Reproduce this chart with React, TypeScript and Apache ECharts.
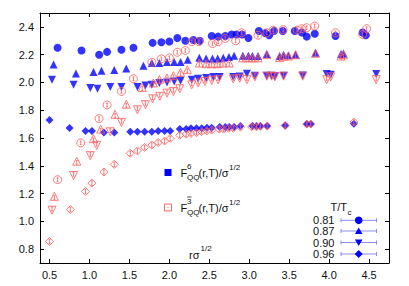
import React, { useEffect, useRef } from "react";
import * as echarts from "echarts";

const X_TICKS = [0.5, 1.0, 1.5, 2.0, 2.5, 3.0, 3.5, 4.0, 4.5];
const Y_TICKS = [0.8, 1.0, 1.2, 1.4, 1.6, 1.8, 2.0, 2.2, 2.4];
const T_LABELS = ["0.81", "0.87", "0.90", "0.96"];

// F^6 (blue, filled)
const F6_081 = [[0.60,2.25],[0.90,2.23],[1.12,2.20],[1.22,2.22],[1.40,2.235],[1.55,2.25],[1.79,2.285],[1.90,2.29],[2.00,2.295],[2.10,2.32],[2.20,2.30],[2.30,2.305],[2.38,2.30],[2.53,2.335],[2.61,2.33],[2.70,2.335],[2.78,2.345],[2.84,2.345],[2.91,2.345],[2.99,2.32],[3.12,2.37],[3.20,2.355],[3.25,2.34],[3.31,2.37],[3.42,2.37],[3.57,2.37],[3.66,2.36],[3.72,2.33],[3.82,2.35],[4.08,2.335],[4.42,2.36],[4.46,2.34]];
const F6_087 = [[0.55,2.13],[0.83,2.065],[1.05,2.075],[1.15,2.085],[1.31,2.09],[1.46,2.10],[1.675,2.12],[1.78,2.14],[1.875,2.14],[1.97,2.148],[2.06,2.148],[2.14,2.148],[2.23,2.164],[2.375,2.177],[2.46,2.172],[2.54,2.172],[2.605,2.172],[2.675,2.177],[2.746,2.184],[2.81,2.193],[2.92,2.193],[2.99,2.193],[3.04,2.19],[3.11,2.19],[3.22,2.205],[3.38,2.19],[3.43,2.20],[3.49,2.195],[3.58,2.20],[3.83,2.213],[4.15,2.205],[4.18,2.208]];
const F6_090 = [[0.53,2.02],[0.80,1.983],[1.01,1.96],[1.10,1.954],[1.26,1.967],[1.40,1.967],[1.60,1.967],[1.70,1.978],[1.78,1.983],[1.875,1.996],[1.97,2.0],[2.06,2.007],[2.14,2.012],[2.28,2.02],[2.36,2.027],[2.46,2.032],[2.55,2.04],[2.63,2.04],[2.80,2.04],[2.88,2.043],[2.97,2.063],[3.07,2.049],[3.22,2.049],[3.28,2.049],[3.32,2.045],[3.43,2.049],[3.67,2.05],[3.97,2.06],[4.02,2.056],[4.59,2.06]];
const F6_096 = [[0.50,1.73],[0.75,1.672],[0.95,1.65],[1.03,1.65],[1.18,1.64],[1.31,1.64],[1.51,1.645],[1.60,1.645],[1.69,1.645],[1.78,1.645],[1.86,1.65],[1.94,1.65],[2.01,1.65],[2.13,1.664],[2.21,1.664],[2.27,1.67],[2.34,1.67],[2.405,1.67],[2.47,1.674],[2.53,1.674],[2.63,1.68],[2.70,1.68],[2.75,1.68],[2.81,1.68],[2.89,1.686],[3.04,1.686],[3.09,1.686],[3.14,1.686],[3.225,1.686],[3.45,1.69],[3.72,1.70],[3.77,1.70],[4.31,1.703]];

// F^3bar (red, open)
const F3_081 = [[0.60,1.30],[0.89,1.565],[1.12,1.74],[1.22,1.838],[1.40,1.935],[1.55,2.027],[1.78,2.145],[1.90,2.17],[2.00,2.177],[2.10,2.217],[2.20,2.23],[2.28,2.293],[2.37,2.293],[2.54,2.28],[2.61,2.293],[2.70,2.317],[2.83,2.30],[2.905,2.358],[3.11,2.34],[3.22,2.358],[3.30,2.377],[3.425,2.38],[3.60,2.377],[3.655,2.387],[3.72,2.394],[3.82,2.406],[4.08,2.358],[4.42,2.345],[4.47,2.387]];
const F3_087 = [[0.56,1.18],[0.84,1.433],[1.05,1.595],[1.14,1.664],[1.32,1.77],[1.46,1.843],[1.66,1.964],[1.80,1.996],[1.875,2.02],[1.97,2.032],[2.05,2.049],[2.14,2.072],[2.225,2.092],[2.375,2.14],[2.46,2.135],[2.53,2.135],[2.60,2.135],[2.67,2.14],[2.75,2.14],[2.92,2.177],[2.99,2.177],[3.04,2.177],[3.11,2.177],[3.22,2.20],[3.38,2.18],[3.43,2.19],[3.49,2.19],[3.58,2.20],[3.83,2.21],[4.15,2.19],[4.18,2.20]];
const F3_090 = [[0.53,1.08],[0.80,1.33],[1.01,1.473],[1.09,1.547],[1.26,1.645],[1.40,1.712],[1.60,1.803],[1.70,1.84],[1.79,1.882],[1.88,1.90],[1.97,1.923],[2.05,1.935],[2.13,1.955],[2.28,1.983],[2.36,1.996],[2.445,2.007],[2.53,2.015],[2.61,2.02],[2.80,2.025],[2.88,2.03],[2.97,2.02],[3.07,2.04],[3.22,2.045],[3.28,2.045],[3.32,2.04],[3.43,2.045],[3.67,2.045],[3.97,2.02],[4.02,2.04],[4.59,2.02]];
const F3_096 = [[0.50,0.855],[0.76,1.085],[0.95,1.215],[1.03,1.275],[1.18,1.355],[1.31,1.41],[1.51,1.49],[1.60,1.507],[1.69,1.532],[1.78,1.549],[1.86,1.568],[1.94,1.578],[2.01,1.597],[2.13,1.62],[2.21,1.628],[2.27,1.633],[2.34,1.638],[2.405,1.645],[2.47,1.652],[2.53,1.657],[2.625,1.664],[2.68,1.664],[2.74,1.67],[2.80,1.67],[2.89,1.678],[3.03,1.68],[3.09,1.68],[3.14,1.684],[3.225,1.686],[3.45,1.69],[3.72,1.70],[3.77,1.70],[4.31,1.715]];

const BLUE = "#0000ff";
const RED = "#ff5a5a";
const FONT = '"Liberation Sans", Arial, sans-serif';

const SYM_CIRCLE = "path://M10 1 A9 9 0 1 1 9.99 1 Z M10 6 V14 M8 6 H12 M8 14 H12";
const SYM_TRI = "path://M10 1 L19 18 L1 18 Z M10 8 V16 M8 8 H12 M8 16 H12";
const SYM_DTRI = "path://M1 2 L19 2 L10 19 Z M10 4 V12 M8 4 H12 M8 12 H12";
const SYM_DIAM = "path://M10 1 L19 10 L10 19 L1 10 Z M10 5 V15 M8 5 H12 M8 15 H12";

function txt(text: string, x: number, y: number, size = 11, align = "left") {
  return {
    type: "text",
    x,
    y,
    z: 20,
    style: { text, fontSize: size, fontFamily: FONT, fill: "#111", align, verticalAlign: "middle" },
  };
}

export default function App() {
  const ref = useRef<HTMLDivElement>(null);
  useEffect(() => {
    if (!ref.current) return;
    const chart = echarts.init(ref.current, null, { renderer: "svg" });
    const axisCommon = {
      type: "value",
      axisLine: { show: true, onZero: false, lineStyle: { color: "#000", width: 1 } },
      splitLine: { show: false },
    };
    const blueSeries = (data: number[][], symbol: string, size: number, rotate = 0) => ({
      type: "scatter",
      data,
      symbol,
      symbolSize: size,
      symbolRotate: rotate,
      itemStyle: { color: BLUE },
      z: 2,
    });
    const redSeries = (data: number[][], symbol: string, size: number) => ({
      type: "scatter",
      data,
      symbol,
      symbolSize: size,
      itemStyle: { color: "rgba(0,0,0,0)", borderColor: RED, borderWidth: 0.9, opacity: 0.9 },
      z: 3,
    });

    const legendRows = [220.3, 231, 242.5, 254];
    const graphics: any[] = [];
    // F6 legend
    graphics.push({ type: "rect", z: 20, shape: { x: 164.5, y: 169, width: 7, height: 7 }, style: { fill: BLUE } });
    graphics.push(txt("F", 180.5, 172.5));
    graphics.push(txt("6", 187, 166.5, 8));
    graphics.push(txt("QQ", 187, 177, 8));
    graphics.push(txt("(r,T)/σ", 198.5, 172.5));
    graphics.push(txt("1/2", 229, 167, 8));
    // F3bar legend
    graphics.push({ type: "rect", z: 20, shape: { x: 164.5, y: 204, width: 7, height: 7 }, style: { fill: "none", stroke: RED, lineWidth: 0.9 } });
    graphics.push({ type: "rect", z: 20, shape: { x: 167.5, y: 207, width: 1, height: 1 }, style: { fill: RED } });
    graphics.push(txt("F", 180.5, 207.5));
    graphics.push(txt("3", 187, 201.5, 8));
    graphics.push({ type: "line", z: 20, shape: { x1: 187, y1: 197, x2: 191.5, y2: 197 }, style: { stroke: "#111", lineWidth: 0.7 } });
    graphics.push(txt("QQ", 187, 212, 8));
    graphics.push(txt("(r,T)/σ", 198.5, 207.5));
    graphics.push(txt("1/2", 229, 202, 8));
    // axis title
    graphics.push(txt("rσ", 189, 254.5));
    graphics.push(txt("1/2", 200.5, 248.5, 8));
    // T/Tc legend
    graphics.push(txt("T/T", 347, 207, 11, "right"));
    graphics.push(txt("c", 347.5, 212, 8));
    legendRows.forEach((y, i) => {
      graphics.push(txt(T_LABELS[i], 334.5, y, 11, "right"));
      graphics.push({ type: "line", z: 20, shape: { x1: 341, y1: y, x2: 376.5, y2: y }, style: { stroke: "#8c8cff", lineWidth: 1 } });
      graphics.push({ type: "line", z: 20, shape: { x1: 341, y1: y - 2, x2: 341, y2: y + 2 }, style: { stroke: "#8c8cff", lineWidth: 1 } });
      graphics.push({ type: "line", z: 20, shape: { x1: 376.5, y1: y - 2, x2: 376.5, y2: y + 2 }, style: { stroke: "#8c8cff", lineWidth: 1 } });
    });
    const mx = 358.7;
    graphics.push({ type: "circle", z: 21, shape: { cx: mx, cy: legendRows[0], r: 3.8 }, style: { fill: BLUE } });
    graphics.push({ type: "polygon", z: 21, shape: { points: [[mx, legendRows[1] - 3.5], [mx + 3.8, legendRows[1] + 3], [mx - 3.8, legendRows[1] + 3]] }, style: { fill: BLUE } });
    graphics.push({ type: "polygon", z: 21, shape: { points: [[mx - 3.8, legendRows[2] - 3], [mx + 3.8, legendRows[2] - 3], [mx, legendRows[2] + 3.5]] }, style: { fill: BLUE } });
    graphics.push({ type: "polygon", z: 21, shape: { points: [[mx, legendRows[3] - 4], [mx + 4, legendRows[3]], [mx, legendRows[3] + 4], [mx - 4, legendRows[3]]] }, style: { fill: BLUE } });

    chart.setOption({
      animation: false,
      backgroundColor: "#fff",
      textStyle: { fontFamily: FONT },
      grid: { left: 40, right: 20, top: 13, bottom: 23, containLabel: false },
      xAxis: [
        {
          ...axisCommon,
          position: "bottom",
          min: 0.38,
          max: 4.75,
          axisTick: { show: true, inside: true, length: 4, customValues: X_TICKS, lineStyle: { color: "#000" } },
          axisLabel: { show: true, customValues: X_TICKS, formatter: (v: number) => v.toFixed(1), fontSize: 11, color: "#111", margin: 6, fontFamily: FONT },
        },
        {
          ...axisCommon,
          position: "top",
          min: 0.38,
          max: 4.75,
          axisTick: { show: true, inside: true, length: 4, customValues: X_TICKS, lineStyle: { color: "#000" } },
          axisLabel: { show: false },
        },
      ],
      yAxis: [
        {
          ...axisCommon,
          position: "left",
          min: 0.7,
          max: 2.5,
          axisTick: { show: true, inside: true, length: 4, customValues: Y_TICKS, lineStyle: { color: "#000" } },
          axisLabel: { show: true, customValues: Y_TICKS, formatter: (v: number) => v.toFixed(1), fontSize: 11, color: "#111", margin: 6, fontFamily: FONT },
        },
        {
          ...axisCommon,
          position: "right",
          min: 0.7,
          max: 2.5,
          axisTick: { show: true, inside: true, length: 4, customValues: Y_TICKS, lineStyle: { color: "#000" } },
          axisLabel: { show: false },
        },
      ],
      series: [
        blueSeries(F6_081, "circle", 8),
        blueSeries(F6_087, "triangle", 8),
        blueSeries(F6_090, "triangle", 8, 180),
        blueSeries(F6_096, "diamond", 8),
        redSeries(F3_081, SYM_CIRCLE, 8),
        redSeries(F3_087, SYM_TRI, 8),
        redSeries(F3_090, SYM_DTRI, 8),
        redSeries(F3_096, SYM_DIAM, 8),
      ],
      graphic: graphics,
    });
    return () => chart.dispose();
  }, []);
  return <div ref={ref} style={{ position: "fixed", left: 0, top: 0, width: 409, height: 286 }} />;
}
